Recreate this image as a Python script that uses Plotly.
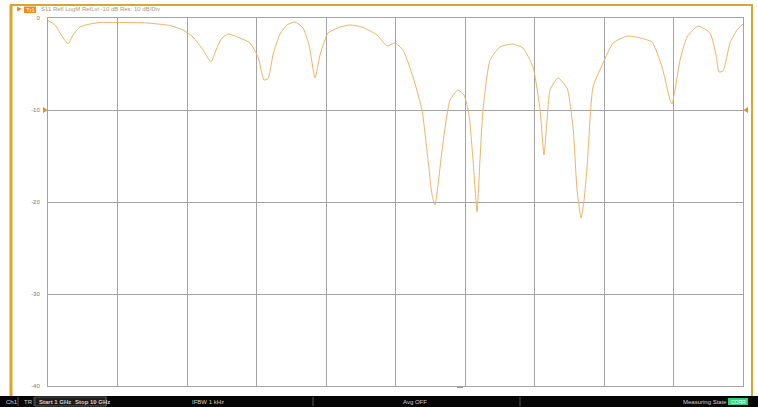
import plotly.graph_objects as go

# Frequency (GHz) and S11 (dB)
freq_ghz = [1.000, 1.091, 1.181, 1.259, 1.324, 1.414, 1.544, 1.673, 1.894, 2.282,
            2.580, 2.748, 2.878, 3.007, 3.111, 3.176, 3.253, 3.331, 3.486, 3.616,
            3.720, 3.797, 3.849, 3.914, 4.004, 4.095, 4.199, 4.302, 4.380, 4.458,
            4.523, 4.626, 4.782, 4.911, 5.080, 5.261, 5.390, 5.494, 5.597, 5.727,
            5.843, 5.921, 5.973, 6.012, 6.051, 6.103, 6.206, 6.310, 6.387, 6.452,
            6.504, 6.556, 6.594, 6.633, 6.724, 6.853, 7.009, 7.151, 7.281, 7.372,
            7.423, 7.462, 7.501, 7.605, 7.721, 7.799, 7.851, 7.903, 7.942, 7.981,
            8.058, 8.188, 8.317, 8.499, 8.667, 8.822, 8.952, 9.055, 9.081, 9.120,
            9.185, 9.276, 9.418, 9.573, 9.651, 9.690, 9.742, 9.832, 9.923, 10.000]
s11_db = [-0.27, -0.76, -1.96, -2.83, -1.85, -0.98, -0.65, -0.49, -0.49, -0.54,
          -0.82, -1.30, -2.07, -3.48, -4.78, -3.48, -2.17, -1.74, -2.17, -2.72,
          -4.24, -6.74, -6.60, -4.02, -1.74, -0.76, -0.43, -1.09, -2.93, -6.52,
          -4.02, -1.63, -0.98, -0.76, -1.03, -1.85, -3.04, -2.72, -3.48, -6.41,
          -10.0, -15.43, -19.24, -20.33, -18.15, -14.35, -8.91, -7.83, -8.37, -10.54,
          -15.43, -21.09, -15.43, -10.0, -4.57, -3.15, -2.83, -3.26, -5.33, -10.0,
          -14.89, -11.09, -7.83, -6.52, -7.61, -11.85, -18.70, -21.74, -19.78, -16.20,
          -7.50, -4.89, -2.72, -1.96, -2.17, -2.61, -5.33, -8.91, -9.35, -7.83,
          -4.57, -2.07, -0.87, -1.63, -4.02, -5.87, -5.76, -2.72, -1.30, -0.65]

y_ticks = [0, -10, -20, -30, -40]
y_tick_labels = ["0", "-10", "-20", "-30", "-40"]
x_ticks = [1 + 0.9 * i for i in range(11)]

header_text = "S11 Refl LogM RefLvl -10 dB Res: 10 dB/Div"
trace_name = "Tr1"

W, H = 758, 407
L, R, T, B = 48, 15, 18, 21
PW, PH = W - L - R, H - T - B


def fx(px):
    return (px - L) / PW


def fy(py):
    return (H - B - py) / PH


ORANGE = "#d9a52a"
MARK = "#f08a1c"
FONT = "Liberation Sans, Arial, sans-serif"

fig = go.Figure()
fig.add_trace(go.Scatter(x=freq_ghz, y=s11_db, mode="lines",
                         line=dict(color="#ecb466", width=1, shape="spline", smoothing=0.5),
                         showlegend=False, hoverinfo="skip"))

shapes = []
# outer orange frame
shapes.append(dict(type="line", xref="paper", yref="paper", x0=fx(11), x1=fx(11),
                   y0=fy(396), y1=fy(5), line=dict(color=ORANGE, width=3)))
shapes.append(dict(type="line", xref="paper", yref="paper", x0=fx(10), x1=fx(753),
                   y0=fy(5), y1=fy(5), line=dict(color=ORANGE, width=2)))
shapes.append(dict(type="line", xref="paper", yref="paper", x0=fx(752), x1=fx(752),
                   y0=fy(396), y1=fy(5), line=dict(color=ORANGE, width=2)))
# bottom status bar
shapes.append(dict(type="rect", xref="paper", yref="paper", x0=fx(0), x1=fx(758),
                   y0=fy(407), y1=fy(396), fillcolor="#050505", line=dict(width=0), layer="above"))
shapes.append(dict(type="rect", xref="paper", yref="paper", x0=fx(35), x1=fx(106),
                   y0=fy(406), y1=fy(397), fillcolor="#1c1c1c",
                   line=dict(color="#555", width=1), layer="above"))
for sx in [18, 34, 106, 313, 520]:
    shapes.append(dict(type="line", xref="paper", yref="paper", x0=fx(sx), x1=fx(sx),
                       y0=fy(406), y1=fy(397), line=dict(color="#555", width=1), layer="above"))
shapes.append(dict(type="rect", xref="paper", yref="paper", x0=fx(728), x1=fx(748),
                   y0=fy(405), y1=fy(398), fillcolor="#2ed47a", line=dict(width=0), layer="above"))
# header trace box and marker
shapes.append(dict(type="rect", xref="paper", yref="paper", x0=fx(24), x1=fx(36),
                   y0=fy(13), y1=fy(6.5), fillcolor=MARK, line=dict(width=0)))
shapes.append(dict(type="path", xref="paper", yref="paper",
                   path=f"M {fx(17)},{fy(6.5)} L {fx(22)},{fy(9)} L {fx(17)},{fy(11.5)} Z",
                   fillcolor=MARK, line=dict(width=0)))
# reference level markers
shapes.append(dict(type="path", xref="paper", yref="paper",
                   path=f"M {fx(43)},{fy(107)} L {fx(47.5)},{fy(110)} L {fx(43)},{fy(113)} Z",
                   fillcolor=MARK, line=dict(width=0)))
shapes.append(dict(type="path", xref="paper", yref="paper",
                   path=f"M {fx(748)},{fy(107)} L {fx(743.5)},{fy(110)} L {fx(748)},{fy(113)} Z",
                   fillcolor=MARK, line=dict(width=0)))
shapes.append(dict(type="rect", xref="paper", yref="paper", x0=fx(457), x1=fx(463),
                   y0=fy(388), y1=fy(386.5), fillcolor="#999", line=dict(width=0)))

annotations = []
annotations.append(dict(xref="paper", yref="paper", x=fx(30), y=fy(9.8), text=trace_name,
                        showarrow=False, font=dict(size=6, color="white", family=FONT),
                        xanchor="center", yanchor="middle"))
annotations.append(dict(xref="paper", yref="paper", x=fx(39), y=fy(9.5), text=header_text,
                        showarrow=False, font=dict(size=6, color="#a89878", family=FONT),
                        xanchor="left", yanchor="middle"))
status = [("Ch1", 4, "left"), ("TR", 22, "left"), ("<b>Start 1 GHz</b>", 37, "left"),
          ("<b>Stop 10 GHz</b>", 73, "left"), ("IFBW 1 kHz", 208, "center"),
          ("Avg OFF", 415, "center"), ("Measuring State", 705, "center")]
for txt, px, anc in status:
    annotations.append(dict(xref="paper", yref="paper", x=fx(px), y=fy(401.5), text=txt,
                            showarrow=False, font=dict(size=6, color="#cfcfcf", family=FONT),
                            xanchor=anc, yanchor="middle"))
annotations.append(dict(xref="paper", yref="paper", x=fx(738), y=fy(401.5), text="CORR",
                        showarrow=False, font=dict(size=5, color="white", family=FONT),
                        xanchor="center", yanchor="middle"))

fig.update_layout(
    width=W, height=H,
    margin=dict(l=L, r=R, t=T, b=B),
    paper_bgcolor="white", plot_bgcolor="white",
    shapes=shapes, annotations=annotations,
    xaxis=dict(range=[1, 10], tickvals=x_ticks, showticklabels=False, ticks="",
               showgrid=True, gridcolor="#a3a3a3", gridwidth=1, zeroline=False,
               showline=True, linecolor="#a3a3a3", linewidth=1, mirror=True),
    yaxis=dict(range=[-40, 0], tickvals=y_ticks, ticktext=y_tick_labels, ticks="",
               showgrid=True, gridcolor="#a3a3a3", gridwidth=1, zeroline=False,
               showline=True, linecolor="#a3a3a3", linewidth=1, mirror=True,
               tickfont=dict(size=6, color="#777", family=FONT), ticklabelstandoff=6),
)

fig.write_html("out.html", config={"displayModeBar": False},
               post_script="document.body.style.margin='0';document.body.style.overflow='hidden';")
